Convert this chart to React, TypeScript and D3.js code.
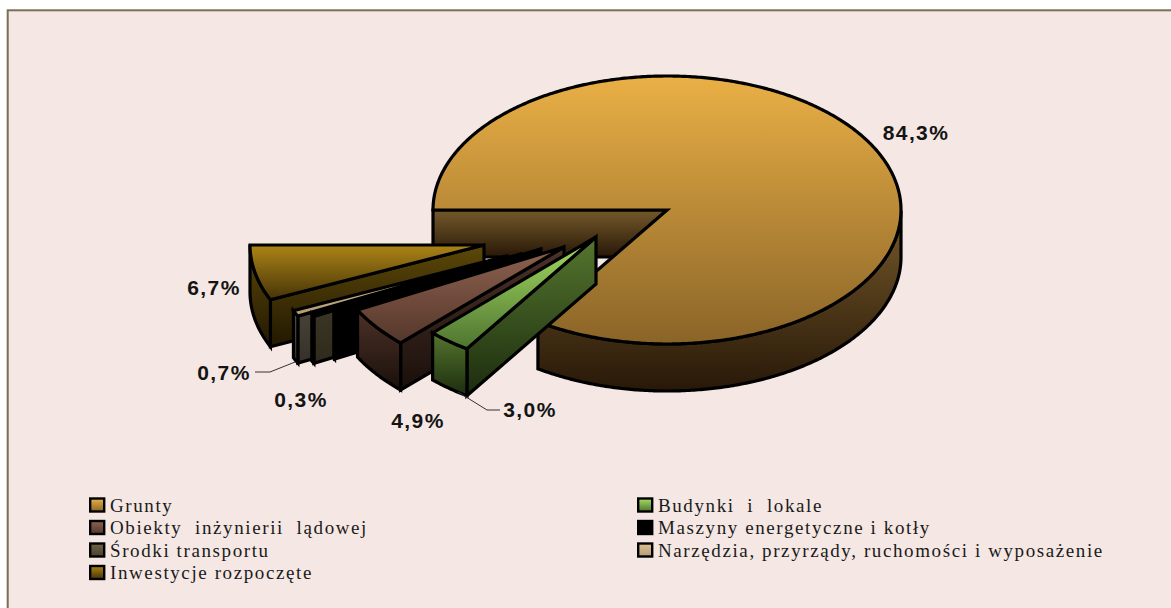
import React from "react";
import * as d3 from "d3";

// Asset structure, in percent, clockwise from the left edge of the pie.
const categories = [
  "Grunty",
  "Budynki  i  lokale",
  "Obiekty  inżynierii  lądowej",
  "Maszyny energetyczne i kotły",
  "Środki transportu",
  "Narzędzia, przyrządy, ruchomości i wyposażenie",
  "Inwestycje rozpoczęte",
];
const shares = [84.3, 3.0, 4.9, 0.1, 0.3, 0.7, 6.7];

// Top-face and side-face gradient stops for each category.
const topColours = [
  ["#EAB046", "#8A6428"],
  ["#A6DE62", "#4E7430"],
  ["#8E6250", "#55372B"],
  ["#000000", "#000000"],
  ["#706346", "#4A4030"],
  ["#DCC294", "#B49C74"],
  ["#AC8416", "#463408"],
];
const wallColours = [
  ["#75592A", "#281808"],
  ["#55762F", "#1C2C0E"],
  ["#4C3228", "#1A0F0B"],
  ["#000000", "#000000"],
  ["#46402E", "#302A1C"],
  ["#5A5542", "#35312A"],
  ["#5C4808", "#221802"],
];

// Pie geometry: ellipse radii, extrusion depth and the centre each slice is pulled out to.
const rx = 234;
const ry = 134;
const depth = 47;
const sliceCentres: [number, number][] = [
  [667, 210],
  [596, 237],
  [564, 247],
  [541, 249],
  [521, 254],
  [507, 256],
  [484, 245],
];

// Value labels; the smallest category carries none.
const labelAnchors: ([number, number] | null)[] = [
  [916, 140],
  [530, 417],
  [418, 428],
  null,
  [301, 407],
  [224, 380],
  [214, 295],
];
const leaderLines: [number, number][][] = [
  [[458, 392], [487, 410], [500, 410]],
  [[295, 362], [270, 372], [255, 372]],
];

const legendRows = [0, 1, 2, 3];
const legendColumns = [89, 637];

const locale = d3.formatLocale({
  decimal: ",",
  thousands: " ",
  grouping: [3],
  currency: ["", ""],
});
const percentLabel = locale.format(".1f");

const slices = d3
  .pie<number>()
  .sort(null)
  .startAngle(Math.PI * 1.5)
  .endAngle(Math.PI * 3.5)(shares);

const lineOf = d3.line<[number, number]>();

function rimAngles(from: number, to: number): number[] {
  const steps = Math.max(2, Math.ceil(Math.abs(to - from) / 0.01));
  return d3.range(steps + 1).map((i) => from + ((to - from) * i) / steps);
}

function rimPoint(centre: [number, number], a: number): [number, number] {
  const x = d3.scaleLinear().domain([-1, 1]).range([centre[0] - rx, centre[0] + rx]);
  const y = d3.scaleLinear().domain([-1, 1]).range([centre[1] - ry, centre[1] + ry]);
  return [x(Math.sin(a)), y(-Math.cos(a))];
}

function extrude(points: [number, number][]): string {
  const lower = points.map(([px, py]) => [px, py + depth] as [number, number]).reverse();
  return lineOf([...points, ...lower]) + "Z";
}

function Slice({ index }: { index: number }) {
  const s = slices[index];
  const centre = sliceCentres[index];
  const angles = rimAngles(s.startAngle, s.endAngle);
  const rim = angles.map((a) => rimPoint(centre, a));
  const top = lineOf([centre, ...rim]) + "Z";
  // The straight cut along the start angle faces the viewer on every slice.
  const cut = extrude([centre, rim[0]]);
  // The visible wall is the last unbroken run of the rim on the near side (cos < 0).
  let first = angles.length - 1;
  while (first > 0 && Math.cos(angles[first - 1]) <= 0.001) first -= 1;
  const near = rim.slice(first);
  const shared = { stroke: "#000", strokeWidth: 3.2, strokeLinejoin: "miter" as const };
  return (
    <g>
      <path d={cut} fill={`url(#wall-${index})`} {...shared} />
      {near.length > 1 && <path d={extrude(near)} fill={`url(#wall-${index})`} {...shared} />}
      <path d={top} fill={`url(#top-${index})`} {...shared} />
    </g>
  );
}

function Gradient({ id, stops }: { id: string; stops: string[] }) {
  return (
    <linearGradient id={id} x1="0" y1="0" x2="0" y2="1">
      <stop offset="0" stopColor={stops[0]} />
      <stop offset="1" stopColor={stops[1]} />
    </linearGradient>
  );
}

export default function App() {
  const rowY = d3.scalePoint<number>().domain(legendRows).range([505, 572.5]);
  // Back to front: the main body first, then the pulled-out slices from the left.
  const paintOrder = [0, 6, 5, 4, 3, 2, 1];
  return (
    <svg
      width={1171}
      height={608}
      style={{ position: "fixed", left: 0, top: 0, display: "block", background: "#fff" }}
    >
      <defs>
        {categories.map((_, i) => (
          <React.Fragment key={i}>
            <Gradient id={`top-${i}`} stops={topColours[i]} />
            <Gradient id={`wall-${i}`} stops={wallColours[i]} />
          </React.Fragment>
        ))}
      </defs>

      <rect x={7.7} y={10.3} width={1175} height={610} fill="#F5E7E3" stroke="#7A6E55" strokeWidth={2} />

      {paintOrder.map((i) => (
        <Slice key={i} index={i} />
      ))}

      {leaderLines.map((pts, i) => (
        <path key={i} d={lineOf(pts) ?? ""} fill="none" stroke="#333" strokeWidth={1} />
      ))}

      {shares.map((v, i) => {
        const anchor = labelAnchors[i];
        if (!anchor) return null;
        return (
          <text
            key={i}
            x={anchor[0]}
            y={anchor[1]}
            textAnchor="middle"
            fontFamily="Liberation Sans"
            fontWeight="bold"
            fontSize={21}
            letterSpacing={1.4}
            fill="#141414"
          >
            {percentLabel(v)}%
          </text>
        );
      })}

      {categories.map((name, i) => {
        const x = legendColumns[i % 2];
        const y = rowY(Math.floor(i / 2)) as number;
        return (
          <g key={name}>
            <rect
              x={x + 1.2}
              y={y - 6.5}
              width={14}
              height={13}
              fill={`url(#top-${i})`}
              stroke="#000"
              strokeWidth={2.4}
            />
            <text
              x={x + 21}
              y={y + 6.8}
              fontFamily="Liberation Serif"
              fontSize={19}
              letterSpacing={1.6}
              fill="#1a1a1a"
              style={{ whiteSpace: "pre" }}
            >
              {name}
            </text>
          </g>
        );
      })}
    </svg>
  );
}
